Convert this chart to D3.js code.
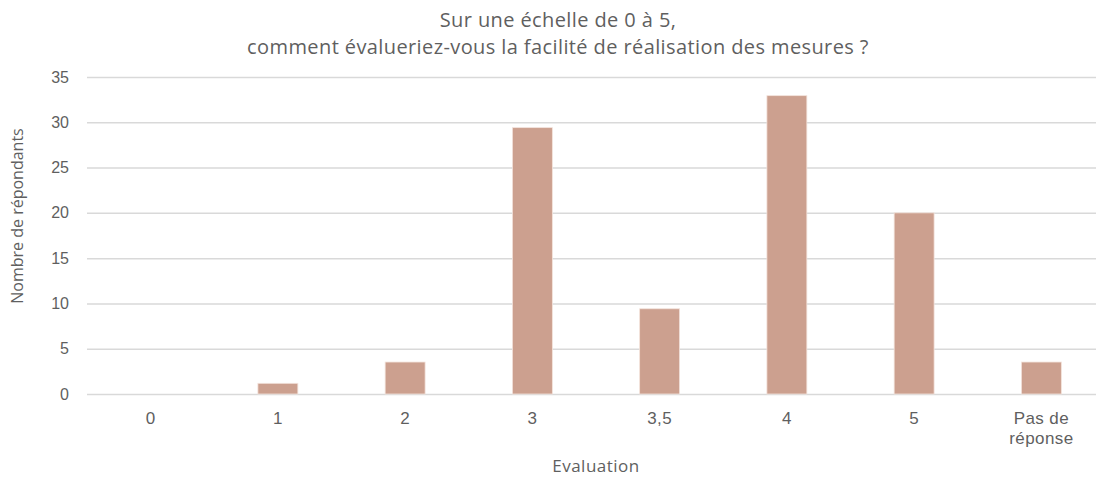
<!DOCTYPE html>
<html>
<head>
<meta charset="utf-8">
<script src="https://cdn.jsdelivr.net/npm/d3@7"></script>
<style>
  html, body { margin: 0; padding: 0; background: #fff; overflow: hidden; }
  svg { display: block; font-family: "Open Sans", Lato, sans-serif; }
</style>
</head>
<body>
<svg id="chart" width="1096" height="479"></svg>
<script>
// Share of respondents (%) per rating
const categories = ["0", "1", "2", "3", "3,5", "4", "5", "Pas de\nréponse"];
const values = [0, 1.18, 3.53, 29.41, 9.41, 32.94, 20, 3.53];
const yTicks = [0, 5, 10, 15, 20, 25, 30, 35];
const titleLines = ["Sur une échelle de 0 à 5,", "comment évalueriez-vous la facilité de réalisation des mesures ?"];
const xTitle = "Evaluation";
const yTitle = "Nombre de répondants";

const svg = d3.select("#chart");
const textColor = "#5f5f5f";
const gridColor = "#d9d9d9";

const plot = { left: 87, right: 1105, top: 77, bottom: 394 };

const x = d3.scaleBand()
  .domain(categories)
  .range([plot.left, plot.right])
  .paddingInner(0.686)
  .paddingOuter(0.343);

const y = d3.scaleLinear()
  .domain([0, 35])
  .range([plot.bottom, plot.top]);

// Horizontal gridlines with value labels
const yAxis = d3.axisLeft(y)
  .tickValues(yTicks)
  .tickSize(-(plot.right - plot.left))
  .tickPadding(18)
  .tickFormat(d3.format("d"));

const gy = svg.append("g")
  .attr("transform", `translate(${plot.left},0)`)
  .call(yAxis);
gy.select(".domain").remove();
gy.selectAll(".tick line").attr("stroke", gridColor).attr("stroke-width", 1.5);
gy.selectAll(".tick text")
  .attr("fill", textColor)
  .attr("font-size", 16);

// Bars
svg.append("g")
  .selectAll("rect")
  .data(values)
  .join("rect")
  .attr("x", (d, i) => x(categories[i]))
  .attr("width", x.bandwidth())
  .attr("y", d => y(d))
  .attr("height", d => y(0) - y(d))
  .attr("fill", "#cca08f")
  .attr("stroke", "#f3e3dc")
  .attr("stroke-width", 0.8);

// Category axis labels
const xAxis = d3.axisBottom(x).tickSize(0).tickPadding(0);
const gx = svg.append("g")
  .attr("transform", `translate(0,${plot.bottom})`)
  .call(xAxis);
gx.select(".domain").remove();
gx.selectAll(".tick text").each(function(d) {
  const t = d3.select(this);
  const lines = d.split("\n");
  t.text(null)
    .attr("fill", textColor)
    .attr("font-size", 17)
    .attr("letter-spacing", 0.4)
    .attr("y", 0)
    .attr("dy", null);
  lines.forEach((ln, i) => {
    t.append("tspan")
      .attr("x", 0)
      .attr("y", 30 + i * 20)
      .text(ln);
  });
});

// Axis titles
svg.append("text")
  .attr("x", (plot.left + plot.right) / 2)
  .attr("y", 472)
  .attr("text-anchor", "middle")
  .attr("fill", textColor)
  .attr("font-size", 17)
  .attr("letter-spacing", 0.5)
  .text(xTitle);

svg.append("text")
  .attr("transform", `translate(23,216) rotate(-90)`)
  .attr("text-anchor", "middle")
  .attr("fill", textColor)
  .attr("font-size", 16)
  .text(yTitle);

// Chart title
const title = svg.append("text")
  .attr("text-anchor", "middle")
  .attr("fill", textColor)
  .attr("font-size", 20)
  .attr("letter-spacing", 0.4);
titleLines.forEach((ln, i) => {
  title.append("tspan")
    .attr("x", 558)
    .attr("y", 27 + i * 27)
    .text(ln);
});
</script>
</body>
</html>
